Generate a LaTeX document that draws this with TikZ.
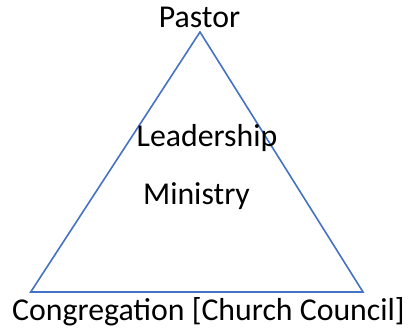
\documentclass[tikz,border=0pt]{standalone}
\usepackage{fontspec}
\setmainfont{Carlito}
\definecolor{edgeblue}{RGB}{68,114,196}
\begin{document}
\begin{tikzpicture}[x=1pt,y=-1pt,
  label text/.style={font=\fontsize{31.8}{38}\selectfont, text=black, anchor=base, inner sep=0pt},
  side/.style={draw=edgeblue, line width=1.6pt, line join=miter}]
\useasboundingbox (0,0) rectangle (409,329);
% corners of the triangle
\coordinate (top) at (200,32);
\coordinate (left) at (30.7,292);
\coordinate (right) at (363,292);
\draw[side] (top) -- (right) -- (left) -- cycle;
% labels
\node[label text] (pastor) at (199.5,28) {Pastor};
\node[label text] (leadership) at (207,146) {Leadership};
\node[label text] (ministry) at (196.5,204) {Ministry};
\node[label text] (congregation) at (208.5,320) {Congregation [Church Council]};
\end{tikzpicture}
\end{document}
